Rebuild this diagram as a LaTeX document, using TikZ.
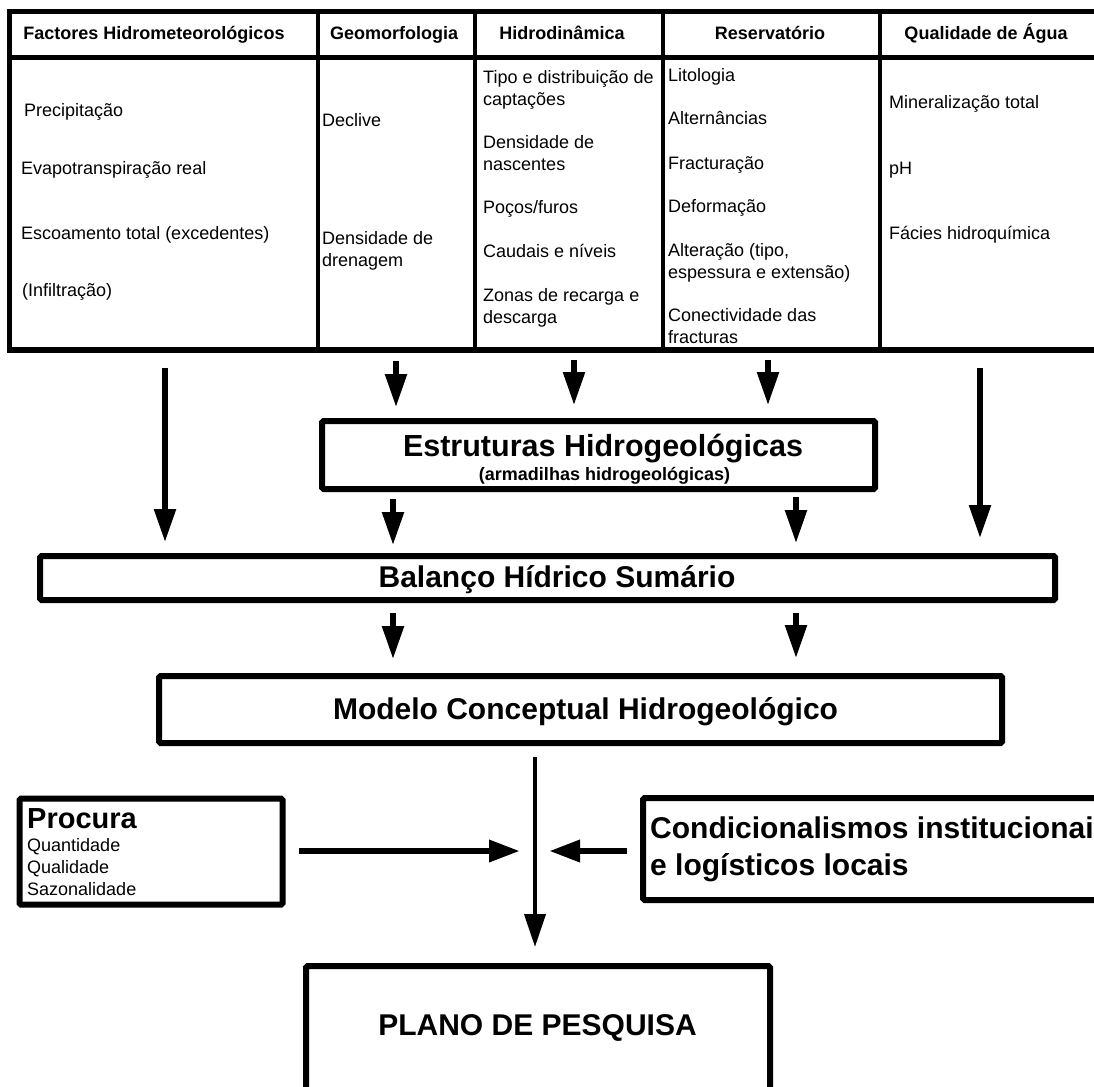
\documentclass[tikz,border=0pt]{standalone}
\usepackage{fontspec}
\setmainfont{Liberation Sans}
\usetikzlibrary{arrows.meta}
\begin{document}
\begin{tikzpicture}[x=1pt,y=-1pt,
  cell/.style={anchor=base west, inner sep=0pt, font=\fontsize{18}{22}\selectfont},
  head/.style={anchor=base, inner sep=0pt, font=\fontsize{18}{22}\selectfont\bfseries},
  box/.style={draw, line width=6pt, rounded corners=1.5pt, inner sep=0pt},
  btitle/.style={anchor=base, inner sep=0pt, font=\fontsize{30}{34}\selectfont\bfseries},
  arr/.style={line width=5.5pt, -{Triangle[length=33pt,width=21pt]}},
  thinarr/.style={line width=4pt, -{Triangle[length=33pt,width=21pt]}},
  harr/.style={line width=6.5pt, -{Triangle[length=31pt,width=21pt]}}
]
\useasboundingbox (0,0) rectangle (1094,1086);
\clip (0,0) rectangle (1094,1086);

% ---------- table of factors ----------
\draw[line width=5.5pt] (9.5,11.5) rectangle (1110,350);
\draw[line width=5pt] (9.5,57.5) -- (1110,57.5);
\foreach \cx in {318,475,663,880}
  \draw[line width=4pt] (\cx,11.5) -- (\cx,350);

\node[head] (h1) at (154,39.5) {Factores Hidrometeorológicos};
\node[head] (h2) at (394,39.5) {Geomorfologia};
\node[head] (h3) at (562,39.5) {Hidrodinâmica};
\node[head] (h4) at (770,39.5) {Reservatório};
\node[head] (h5) at (986,39.5) {Qualidade de Água};

% column 1
\node[cell] (c1a) at (24,116.5) {Precipitação};
\node[cell] (c1b) at (21,174.5) {Evapotranspiração real};
\node[cell] (c1c) at (21,239.5) {Escoamento total (excedentes)};
\node[cell] (c1d) at (22,296.5) {(Infiltração)};
% column 2
\node[cell] (c2a) at (322,126.5) {Declive};
\node[cell] (c2b) at (322,244.5) {Densidade de};
\node[cell] (c2c) at (322,266.5) {drenagem};
% column 3
\node[cell] (c3a) at (483,83.5) {Tipo e distribuição de};
\node[cell] (c3b) at (483,105.5) {captações};
\node[cell] (c3c) at (483,148.5) {Densidade de};
\node[cell] (c3d) at (483,170.5) {nascentes};
\node[cell] (c3e) at (483,213.5) {Poços/furos};
\node[cell] (c3f) at (483,257.5) {Caudais e níveis};
\node[cell] (c3g) at (483,301.5) {Zonas de recarga e};
\node[cell] (c3h) at (483,323.5) {descarga};
% column 4
\node[cell] (c4a) at (668,81.5) {Litologia};
\node[cell] (c4b) at (668,124.5) {Alternâncias};
\node[cell] (c4c) at (668,169.5) {Fracturação};
\node[cell] (c4d) at (668,212.5) {Deformação};
\node[cell] (c4e) at (668,256.5) {Alteração (tipo,};
\node[cell] (c4f) at (668,278.5) {espessura e extensão)};
\node[cell] (c4g) at (668,321.5) {Conectividade das};
\node[cell] (c4h) at (668,343.5) {fracturas};
% column 5
\node[cell] (c5a) at (889,108.5) {Mineralização total};
\node[cell] (c5b) at (889,174.5) {pH};
\node[cell] (c5c) at (889,239.5) {Fácies hidroquímica};

% ---------- boxes ----------
\node[box, minimum width=553, minimum height=68] (est) at (598.5,455) {};
\node[anchor=base, inner sep=0pt, font=\fontsize{30.5}{34}\selectfont\bfseries] (estT) at (603,456) {Estruturas Hidrogeológicas};
\node[anchor=base, inner sep=0pt, font=\fontsize{18}{21}\selectfont\bfseries] (estS) at (604.5,480) {(armadilhas hidrogeológicas)};

\node[box, minimum width=1015, minimum height=44] (bal) at (547.5,578) {};
\node[btitle] (balT) at (557,587) {Balanço Hídrico Sumário};

\node[box, minimum width=843, minimum height=67] (mod) at (580.5,709.5) {};
\node[btitle] (modT) at (585.5,719) {Modelo Conceptual Hidrogeológico};

\node[box, minimum width=263, minimum height=106] (pro) at (151,851.5) {};
\node[anchor=base west, inner sep=0pt, font=\fontsize{29}{32}\selectfont\bfseries] (proT) at (27,828) {Procura};
\node[cell] (pro1) at (27,851.5) {Quantidade};
\node[cell] (pro2) at (27,873.5) {Qualidade};
\node[cell] (pro3) at (27,895.5) {Sazonalidade};

\node[box, minimum width=500, minimum height=102] (cond) at (893,849) {};
\node[anchor=base west, inner sep=0pt, font=\fontsize{30}{33}\selectfont\bfseries] (cond1) at (650,838) {Condicionalismos institucionai};
\node[anchor=base west, inner sep=0pt, font=\fontsize{30}{33}\selectfont\bfseries] (cond2) at (650,875) {e logísticos locais};

\node[box, minimum width=464, minimum height=144] (plano) at (538,1038) {};
\node[btitle] (planoT) at (537.5,1035) {PLANO DE PESQUISA};

% ---------- connectors ----------
\coordinate (a1) at (165,368);
\coordinate (a2) at (396,361);
\coordinate (a3) at (574,360);
\coordinate (a4) at (768,360);
\coordinate (a5) at (980,368);
\draw[arr] (a1) -- ([yshift=11pt]bal.north -| a1);
\draw[arr] (a2) -- ([yshift=11pt]est.north -| a2);
\draw[arr] (a3) -- ([yshift=13pt]est.north -| a3);
\draw[arr] (a4) -- ([yshift=13pt]est.north -| a4);
\draw[arr] (a5) -- ([yshift=15pt]bal.north -| a5);

\coordinate (b1) at (393,499);
\coordinate (b2) at (796,497);
\draw[arr] (b1) -- ([yshift=8pt]bal.north -| b1);
\draw[arr] (b2) -- ([yshift=10pt]bal.north -| b2);

\coordinate (m1) at (393,613);
\coordinate (m2) at (796,613);
\draw[arr] (m1) -- ([yshift=14pt]mod.north -| m1);
\draw[arr] (m2) -- ([yshift=15pt]mod.north -| m2);

\coordinate (hub) at (535,851);
\draw[thinarr] ([yshift=-11pt]mod.south -| hub) -- ([yshift=16pt]plano.north -| hub);
\draw[harr] ([xshift=13pt]pro.east |- hub) -- ([xshift=-15pt]hub);
\draw[harr] ([xshift=-13pt]cond.west |- hub) -- ([xshift=14pt]hub);
\end{tikzpicture}
\end{document}
